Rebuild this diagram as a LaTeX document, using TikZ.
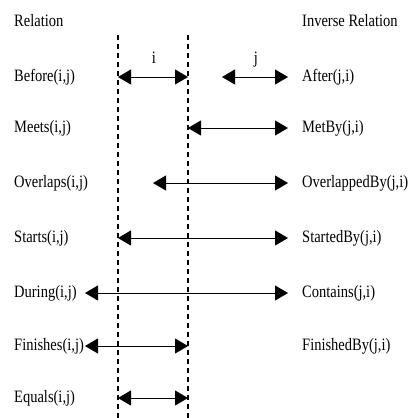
\documentclass[tikz,border=0pt]{standalone}
\usepackage{fontspec}
\setmainfont{Liberation Serif}
\usetikzlibrary{arrows.meta}
\tikzset{
  lbl/.style={inner sep=0pt, font=\fontsize{14.5}{17}\selectfont, anchor=west},
  interval/.style={line width=1pt, {Triangle[length=13pt,width=15pt]}-{Triangle[length=13pt,width=15pt]}},
  bound/.style={line width=1.1pt, dash pattern=on 5pt off 4pt},
}
\newcommand{\tall}[1]{\scalebox{1}[1.2]{#1}}
\begin{document}
\begin{tikzpicture}[x=1pt,y=-1pt]
\useasboundingbox (0,0) rectangle (409,418);
% interval boundaries of i
\coordinate (lt) at (118,35);
\coordinate (lb) at (118,418);
\coordinate (rt) at (188,35);
\coordinate (rb) at (188,418);
\draw[bound] (lt) -- (lb);
\draw[bound] (rt) -- (rb);
% headers
\node[lbl] (h1) at (14,21) {\tall{Relation}};
\node[lbl] (h2) at (302,21) {\tall{Inverse Relation}};
% left column
\node[lbl] (r1) at (14,77) {\tall{Before(i,j)}};
\node[lbl] (r2) at (14,128) {\tall{Meets(i,j)}};
\node[lbl] (r3) at (14,183) {\tall{Overlaps(i,j)}};
\node[lbl] (r4) at (14,238) {\tall{Starts(i,j)}};
\node[lbl] (r5) at (14,293) {\tall{During(i,j)}};
\node[lbl] (r6) at (14,346) {\tall{Finishes(i,j)}};
\node[lbl] (r7) at (14,398) {\tall{Equals(i,j)}};
% right column
\node[lbl] (s1) at (302,77) {\tall{After(j,i)}};
\node[lbl] (s2) at (302,128) {\tall{MetBy(j,i)}};
\node[lbl] (s3) at (302,183) {\tall{OverlappedBy(j,i)}};
\node[lbl] (s4) at (302,238) {\tall{StartedBy(j,i)}};
\node[lbl] (s5) at (302,293) {\tall{Contains(j,i)}};
\node[lbl] (s6) at (302,346) {\tall{FinishedBy(j,i)}};
% interval labels
\node[lbl, anchor=center] (li) at (154,58) {\tall{i}};
\node[lbl, anchor=center] (lj) at (256,60) {\tall{j}};
% interval end points
\coordinate (a1) at (118,77);  \coordinate (b1) at (188,77);
\coordinate (c1) at (222,77);  \coordinate (d1) at (288,77);
\coordinate (a2) at (188,128); \coordinate (b2) at (288,128);
\coordinate (a3) at (153,183); \coordinate (b3) at (288,183);
\coordinate (a4) at (118,238); \coordinate (b4) at (288,238);
\coordinate (a5) at (85,293);  \coordinate (b5) at (288,293);
\coordinate (a6) at (85,346);  \coordinate (b6) at (188,346);
\coordinate (a7) at (118,398); \coordinate (b7) at (188,398);
\draw[interval] (a1) -- (b1);
\draw[interval] (c1) -- (d1);
\draw[interval] (a2) -- (b2);
\draw[interval] (a3) -- (b3);
\draw[interval] (a4) -- (b4);
\draw[interval] (a5) -- (b5);
\draw[interval] (a6) -- (b6);
\draw[interval] (a7) -- (b7);
\end{tikzpicture}
\end{document}
